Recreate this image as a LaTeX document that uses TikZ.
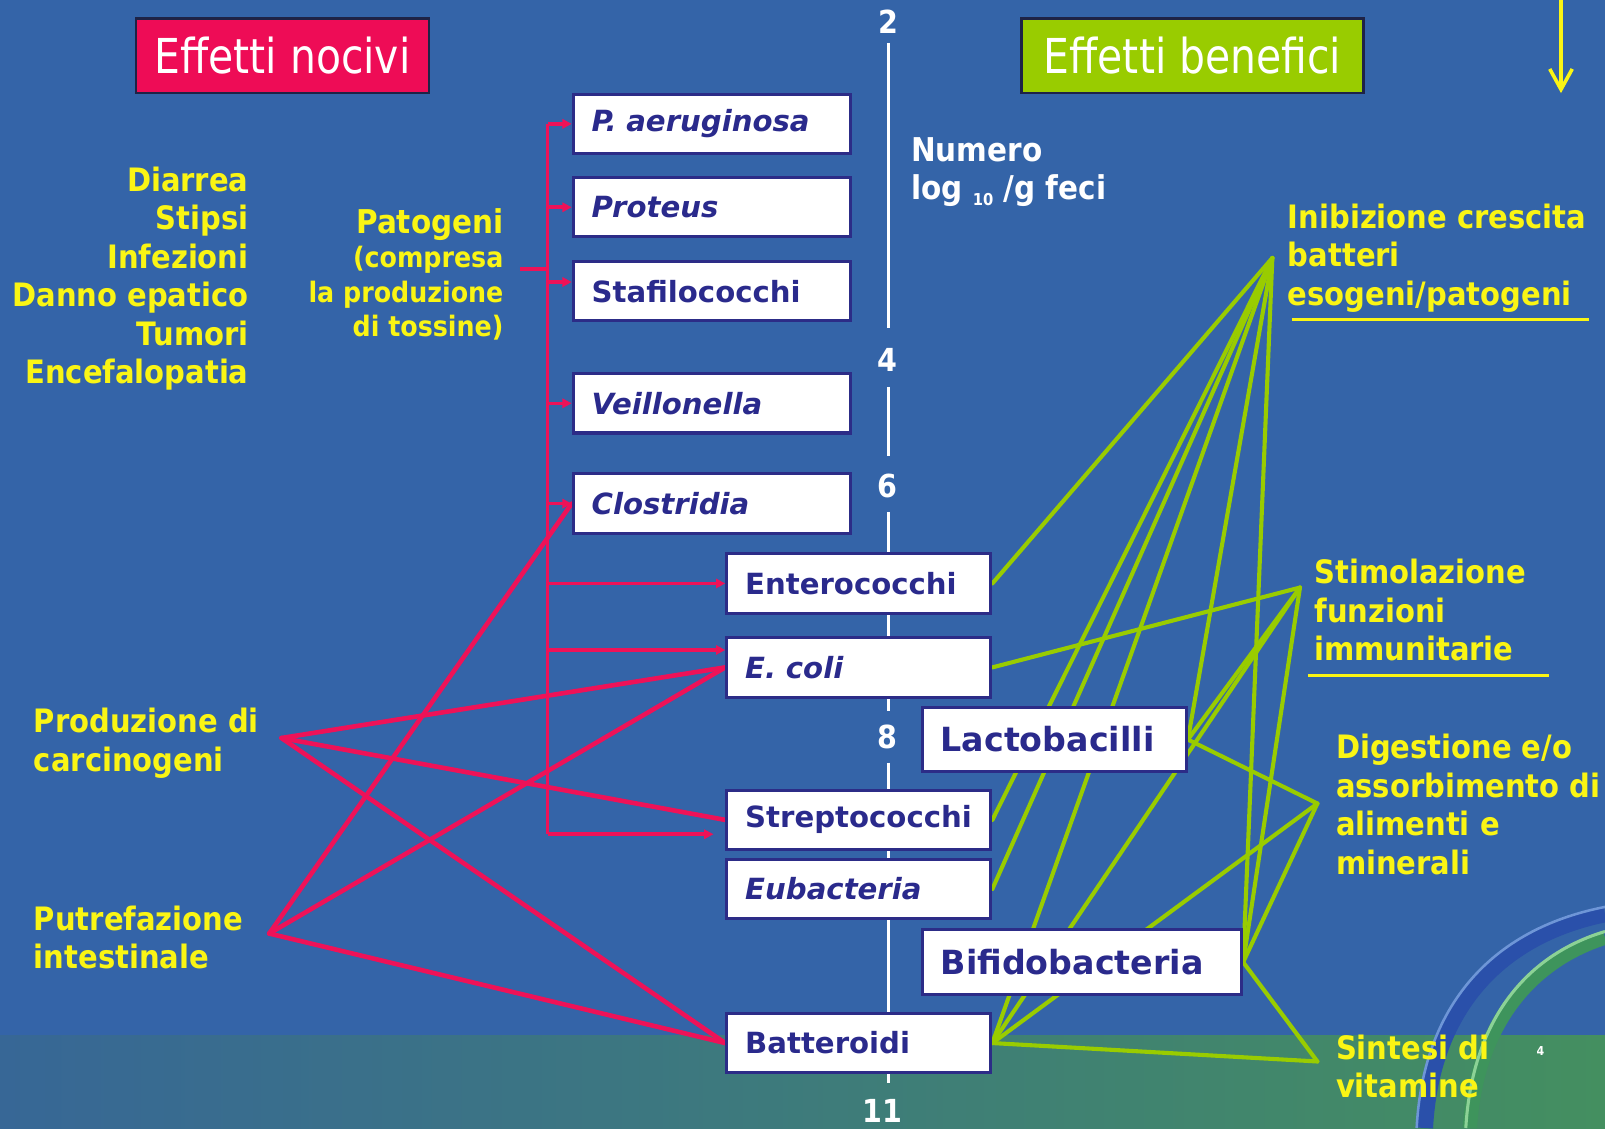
\documentclass[tikz,border=0pt]{standalone}
\usepackage{fontspec}
\setmainfont{DejaVu Sans}
\newfontfamily\bfam{DejaVu Sans}[FakeStretch=0.9]
\newfontfamily\hfam{DejaVu Sans}[FakeStretch=0.85]
\usetikzlibrary{arrows.meta}
\newcommand\myfs[2]{\fontsize{#1}{#2}\selectfont}
\definecolor{bgblue}{RGB}{52,100,168}
\definecolor{stripL}{RGB}{55,103,150}
\definecolor{stripR}{RGB}{68,143,96}
\definecolor{redc}{RGB}{238,18,88}
\definecolor{crim}{RGB}{238,12,86}
\definecolor{greenc}{RGB}{153,204,0}
\definecolor{yel}{RGB}{250,245,20}
\definecolor{navy}{RGB}{42,42,140}
\definecolor{navyline}{RGB}{44,44,135}
\definecolor{hdrline}{RGB}{30,35,70}
\definecolor{arcblue}{RGB}{42,80,170}
\definecolor{arcblueL}{RGB}{110,150,215}
\definecolor{arcgreen}{RGB}{62,148,92}
\definecolor{arcgreenL}{RGB}{140,210,150}
\pgfdeclarelayer{background}
\pgfdeclarelayer{lines}
\pgfsetlayers{background,lines,main}
\begin{document}
\begin{tikzpicture}[x=1pt,y=-1pt,
  bx/.style={draw=navyline, line width=3pt, fill=white, inner xsep=18pt, inner ysep=0pt,
    minimum height=58pt, text=navy, align=left, font=\bfseries\myfs{28.5}{32}},
  bxi/.style={bx, font=\bfseries\itshape\myfs{28.5}{32}},
  bxl/.style={bx, minimum height=63pt, font=\bfseries\myfs{32.5}{36}},
  hbox/.style={draw=hdrline, line width=2.5pt, text=white, inner sep=0pt, minimum height=73pt,
    font=\hfam\myfs{47}{50}},
  ytxt/.style={text=yel, inner sep=0pt, font=\bfam\bfseries\myfs{31.5}{37.6}},
  wtxt/.style={text=white, inner sep=0pt, font=\bfam\bfseries\myfs{31}{37}},
  rarr/.style={draw=redc, line width=3.5pt, -{Triangle[length=9pt,width=9pt]}},
  rline/.style={draw=redc, line width=3.5pt},
  rhub/.style={draw=redc, line width=4.5pt, line cap=round},
  gl/.style={draw=greenc, line width=4pt, line cap=round},
  axis/.style={draw=white, line width=3.5pt},
  uline/.style={draw=yel, line width=3.5pt}
]
\useasboundingbox (0,0) rectangle (1568,1102);

% ---------------- boxes ----------------
\node[bxi, text width=235pt] (paer) at (695.5,121) {P. aeruginosa};
\node[bxi, text width=235pt] (prot) at (695.5,202.5) {Proteus};
\node[bx,  text width=235pt] (staf) at (695.5,284.5) {Stafilococchi};
\node[bxi, text width=235pt] (veil) at (695.5,394) {Veillonella};
\node[bxi, text width=235pt] (clos) at (695.5,492) {Clostridia};
\node[bx,  text width=222pt] (ente) at (839,570) {Enterococchi};
\node[bxi, text width=222pt] (ecol) at (839,652) {E. coli};
\node[bxl, text width=222pt] (lact) at (1030,722.5) {Lactobacilli};
\node[bx,  text width=222pt] (strp) at (839,801) {Streptococchi};
\node[bxi, text width=222pt] (euba) at (839,868.5) {Eubacteria};
\node[bxl, text width=276pt] (bifi) at (1057,940) {Bifidobacteria};
\node[bx,  text width=222pt] (batt) at (839,1019) {Batteroidi};

% ---------------- headers ----------------
\node[hbox, fill=crim, minimum width=286pt] (hn) at (276,54.5) {Effetti nocivi};
\node[hbox, fill=greenc, minimum width=334pt] (hb) at (1165,54.5) {Effetti benefici};

% ---------------- texts ----------------
\node[ytxt, align=right, anchor=east] (sym) at (243,272) {Diarrea\\Stipsi\\Infezioni\\Danno epatico\\Tumori\\Encefalopatia};
\node[ytxt, align=right, anchor=east, font=\bfam\bfseries\myfs{27.5}{33.7}] (pat) at (492,268) {{\myfs{32}{33.7}Patogeni}\\(compresa\\la produzione\\di tossine)};
\node[ytxt, align=left, anchor=west] (prod) at (33,726) {Produzione di\\carcinogeni};
\node[ytxt, align=left, anchor=west] (putr) at (33,916) {Putrefazione\\intestinale};
\node[ytxt, align=left, anchor=west] (inib) at (1258,252) {Inibizione crescita\\batteri\\esogeni/patogeni};
\node[ytxt, align=left, anchor=west] (stim) at (1284,596) {Stimolazione\\funzioni\\immunitarie};
\node[ytxt, align=left, anchor=west] (dige) at (1305,786) {Digestione e/o\\assorbimento di\\alimenti e\\minerali};
\node[ytxt, align=left, anchor=west] (sint) at (1305,1042) {Sintesi di\\vitamine};
\node[wtxt, align=left, anchor=west, font=\bfam\bfseries\myfs{32}{37}] (num) at (890,168) {Numero\\log {\myfs{16}{16}\raisebox{-6pt}{10}} /g feci};
\node[wtxt] (n2) at (868,21) {2};
\node[wtxt] (n4) at (867,352) {4};
\node[wtxt] (n6) at (867,475) {6};
\node[wtxt] (n8) at (867,720) {8};
\node[wtxt] (n11) at (862,1085) {11};
\node[text=white, inner sep=0pt, font=\bfam\bfseries\myfs{12}{12}] (pg) at (1505,1027) {4};

% ---------------- coordinates ----------------
\coordinate (rtop) at (535,121);
\coordinate (rbot) at (535,815);
\coordinate (pstub) at (508,263);
\coordinate (strarr) at (697,815);
\coordinate (stafin) at ([yshift=9pt]staf.west);
\coordinate (ecolin) at ([yshift=17pt]ecol.west);
\coordinate (hc) at (275,721);
\coordinate (hp) at (263,912);
\coordinate (ha) at (1243,252);
\coordinate (hs) at (1270,574);
\coordinate (hd) at (1287,785);
\coordinate (hv) at (1287,1037);
\coordinate (u1a) at (1262,312);
\coordinate (u1b) at (1552,312);
\coordinate (u2a) at (1278,660);
\coordinate (u2b) at (1513,660);
\coordinate (ya) at (1525,0);
\coordinate (yb) at (1525,91);

% ---------------- background ----------------
\begin{pgfonlayer}{background}
\fill[bgblue] (0,0) rectangle (1568,1102);
\shade[left color=stripL, right color=stripR] (0,1012) rectangle (1568,1102);
\draw[arcblue, line width=16pt] (1392,1102) .. controls (1398,990) and (1460,915) .. (1568,893);
\draw[arcblueL, line width=2.5pt] (1384,1102) .. controls (1390,985) and (1455,908) .. (1568,886);
\draw[arcgreen, line width=14pt] (1436,1102) .. controls (1442,1005) and (1492,940) .. (1568,916);
\draw[arcgreenL, line width=3pt] (1432,1102) .. controls (1438,1000) and (1488,934) .. (1568,910);
\end{pgfonlayer}

% ---------------- lines layer ----------------
\begin{pgfonlayer}{lines}
% axis
\draw[axis] (868,42) -- (868,320);
\draw[axis] (868,378) -- (868,445);
\draw[axis] (868,500) -- (868,695);
\draw[axis] (868,745) -- (868,1058);
% red bracket
\draw[rline] (pstub) -- (rtop |- pstub);
\draw[rline] (rtop) -- (rbot);
\draw[rarr] (rbot) -- (strarr);
\draw[rarr] (rtop) -- (paer.west);
\draw[rarr] (rtop |- prot.west) -- (prot.west);
\draw[rarr] (rtop |- stafin) -- (stafin);
\draw[rarr] (rtop |- veil.west) -- (veil.west);
\draw[rarr] (rtop |- clos.west) -- (clos.west);
\draw[rarr] (rtop |- ente.west) -- (ente.west);
\draw[rarr] (rtop |- ecolin) -- (ecolin);
% red hubs
\draw[rhub] (hc) -- (ecol.west);
\draw[rhub] (hc) -- (strp.west);
\draw[rhub] (hc) -- (batt.west);
\draw[rhub] (hp) -- (clos.west);
\draw[rhub] (hp) -- (ecol.west);
\draw[rhub] (hp) -- (batt.west);
% green hubs
\draw[gl] (ha) -- (ente.east);
\draw[gl] (ha) -- (strp.east);
\draw[gl] (ha) -- (euba.east);
\draw[gl] (ha) -- (batt.east);
\draw[gl] (ha) -- (lact.east);
\draw[gl] (ha) -- (bifi.east);
\draw[gl] (hs) -- (ecol.east);
\draw[gl] (hs) -- (lact.east);
\draw[gl] (hs) -- (batt.east);
\draw[gl] (hs) -- (bifi.east);
\draw[gl] (hd) -- (lact.east);
\draw[gl] (hd) -- (batt.east);
\draw[gl] (hd) -- (bifi.east);
\draw[gl] (hv) -- (batt.east);
\draw[gl] (hv) -- (bifi.east);
% underlines and arrow
\draw[uline] (u1a) -- (u1b);
\draw[uline] (u2a) -- (u2b);
\draw[draw=yel, line width=3.5pt, -{Straight Barb[length=20pt,width=22pt]}] (ya) -- (yb);
\end{pgfonlayer}
\end{tikzpicture}
\end{document}
